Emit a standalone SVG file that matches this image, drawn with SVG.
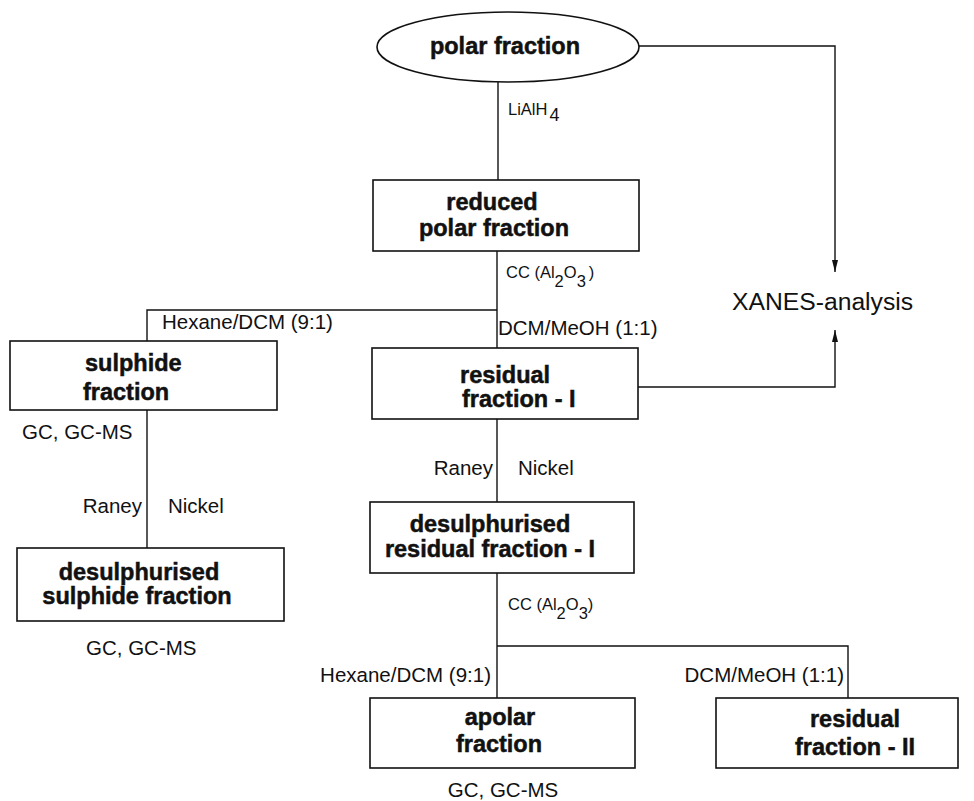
<svg xmlns="http://www.w3.org/2000/svg" width="974" height="801" viewBox="0 0 974 801">
<style>
.box{fill:#fff;stroke:#111;stroke-width:1.6}
.ln{fill:none;stroke:#111;stroke-width:1.4}
.b{font-family:"Liberation Sans",Arial,sans-serif;font-weight:bold;font-size:23.5px;fill:#111;stroke:#111;stroke-width:0.5}
.t{font-family:"Liberation Sans",Arial,sans-serif;font-size:20.5px;fill:#111}
.s{font-family:"Liberation Sans",Arial,sans-serif;font-size:16.5px;fill:#111}
</style>
<defs>
<marker id="ah" viewBox="0 0 12 6" refX="12" refY="3" markerWidth="12" markerHeight="6" markerUnits="userSpaceOnUse" orient="auto">
<path d="M0,0 L12,3 L0,6 Z" fill="#111"/>
</marker>
</defs>
<rect width="974" height="801" fill="#fff"/>
<g id="connectors">
<line class="ln" x1="498" y1="82" x2="498" y2="180"/>
<line class="ln" x1="497" y1="251" x2="497" y2="348"/>
<polyline class="ln" points="147,341 147,310 497,310"/>
<line class="ln" x1="147" y1="410" x2="147" y2="548"/>
<line class="ln" x1="497" y1="419" x2="497" y2="502"/>
<line class="ln" x1="497" y1="573" x2="497" y2="698"/>
<polyline class="ln" points="497,646 848,646 848,698"/>
<polyline class="ln" points="639,46 835,46 835,272" marker-end="url(#ah)"/>
<polyline class="ln" points="638,387 835,387 835,330" marker-end="url(#ah)"/>
</g>
<g id="polar-fraction">
<ellipse class="box" cx="508" cy="47" rx="131" ry="35"/>
<text class="b" x="505" y="54" text-anchor="middle">polar fraction</text>
</g>
<g id="reduced-polar-fraction">
<rect class="box" x="373" y="180" width="266" height="71"/>
<text class="b" x="492" y="210" text-anchor="middle">reduced</text>
<text class="b" x="494" y="236" text-anchor="middle">polar fraction</text>
</g>
<g id="xanes">
<text x="732" y="310" font-family="Liberation Sans, Arial, sans-serif" font-size="24.7" fill="#111">XANES-analysis</text>
</g>
<g id="sulphide-fraction">
<rect class="box" x="10" y="341" width="267" height="69"/>
<text class="b" x="85" y="371">sulphide</text>
<text class="b" x="83" y="400">fraction</text>
</g>
<g id="residual-fraction-I">
<rect class="box" x="372" y="348" width="266" height="71"/>
<text class="b" x="460" y="383">residual</text>
<text class="b" x="462" y="407">fraction - I</text>
</g>
<g id="desulphurised-sulphide-fraction">
<rect class="box" x="17" y="548" width="267" height="73"/>
<text class="b" x="139" y="580" text-anchor="middle">desulphurised</text>
<text class="b" x="137" y="604" text-anchor="middle">sulphide fraction</text>
</g>
<g id="desulphurised-residual-fraction-I">
<rect class="box" x="370" y="502" width="264" height="71"/>
<text class="b" x="490" y="532" text-anchor="middle">desulphurised</text>
<text class="b" x="490" y="557" text-anchor="middle">residual fraction - I</text>
</g>
<g id="apolar-fraction">
<rect class="box" x="370" y="698" width="265" height="70"/>
<text class="b" x="500" y="725" text-anchor="middle">apolar</text>
<text class="b" x="499" y="752" text-anchor="middle">fraction</text>
</g>
<g id="residual-fraction-II">
<rect class="box" x="716" y="698" width="242" height="70"/>
<text class="b" x="855" y="727" text-anchor="middle">residual</text>
<text class="b" x="855" y="755" text-anchor="middle">fraction - II</text>
</g>
<g id="labels">
<text class="s" x="508" y="115">LiAlH<tspan font-size="18" dx="2" dy="6">4</tspan></text>
<text class="s" x="506" y="278">CC (Al<tspan dy="9">2</tspan><tspan dy="-9">O</tspan><tspan dy="9">3</tspan><tspan dy="-9" dx="3">)</tspan></text>
<text class="t" x="162" y="329">Hexane/DCM (9:1)</text>
<text class="t" x="498" y="335">DCM/MeOH (1:1)</text>
<text class="t" x="22" y="439">GC, GC-MS</text>
<text class="t" x="142" y="513" text-anchor="end">Raney</text>
<text class="t" x="168" y="513">Nickel</text>
<text class="t" x="86" y="655">GC, GC-MS</text>
<text class="t" x="493" y="475" text-anchor="end">Raney</text>
<text class="t" x="518" y="475">Nickel</text>
<text class="s" x="508" y="610">CC  (Al<tspan dy="9">2</tspan><tspan dy="-9">O</tspan><tspan dy="9">3</tspan><tspan dy="-9">)</tspan></text>
<text class="t" x="491" y="682" text-anchor="end">Hexane/DCM (9:1)</text>
<text class="t" x="844" y="682" text-anchor="end">DCM/MeOH (1:1)</text>
<text class="t" x="503" y="797" text-anchor="middle">GC, GC-MS</text>
</g>
</svg>
